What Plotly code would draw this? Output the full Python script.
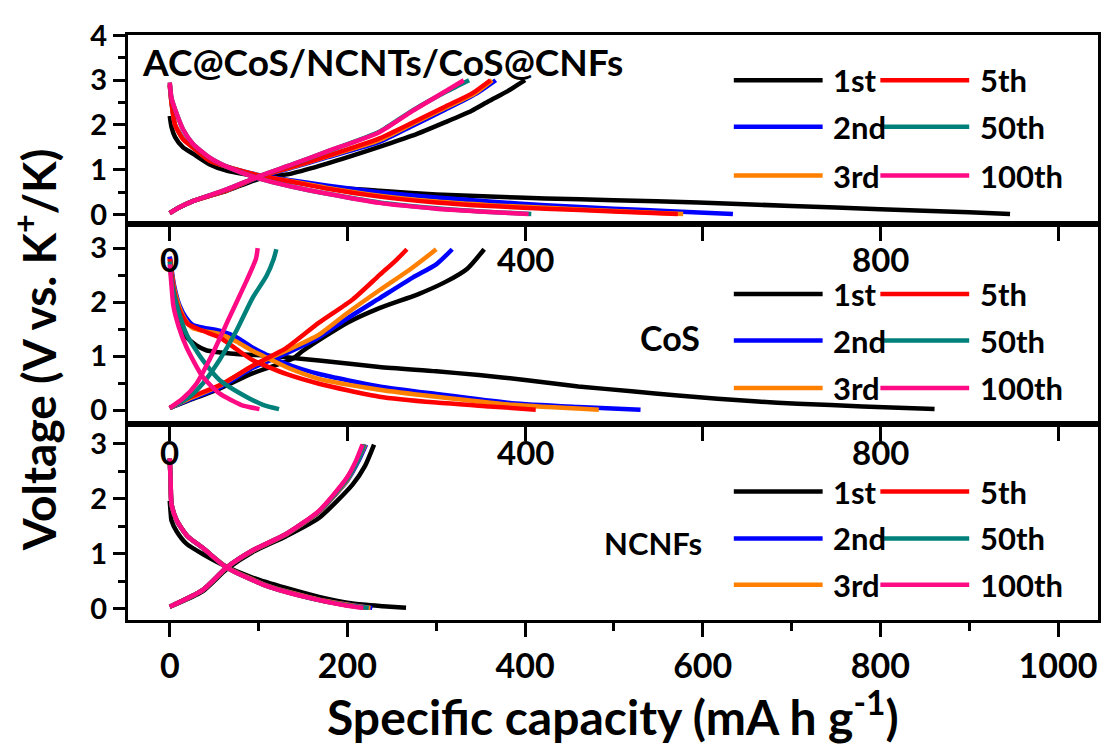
import plotly.graph_objects as go
from plotly.subplots import make_subplots

CYCLES = ["1st", "2nd", "3rd", "5th", "50th", "100th"]
COLORS = ["#000000", "#0000ff", "#ff8000", "#ff0000", "#00807a", "#ff0a85"]
PANEL_LABELS = ["AC@CoS/NCNTs/CoS@CNFs", "CoS", "NCNFs"]
X_TICKS = [0, 200, 400, 600, 800, 1000]
INNER_TICK_LABELS = [0, 400, 800]

# ---------------- Panel 1: AC@CoS/NCNTs/CoS@CNFs ----------------
AC_DIS_1ST = [(0, 2.2), (2, 1.95), (6, 1.73), (15, 1.5), (26, 1.36), (45, 1.12), (64, 0.98), (101, 0.84),
              (138, 0.73), (176, 0.62), (236, 0.53), (300, 0.45), (360, 0.4), (423, 0.36), (500, 0.32),
              (595, 0.27), (700, 0.19), (800, 0.12), (900, 0.05), (946, 0.01)]
AC_DIS_2ND = [(0, 2.9), (2, 2.5), (6, 2.0), (15, 1.7), (26, 1.5), (45, 1.22), (64, 1.07), (101, 0.88),
              (138, 0.76), (176, 0.65), (236, 0.5), (300, 0.38), (360, 0.29), (423, 0.21), (500, 0.13),
              (570, 0.07), (634, 0.01)]
AC_DIS_3RD = [(0, 2.9), (2, 2.5), (6, 2.0), (15, 1.69), (26, 1.5), (45, 1.21), (64, 1.07), (101, 0.87),
              (138, 0.74), (176, 0.6), (236, 0.42), (300, 0.29), (360, 0.21), (423, 0.15), (500, 0.08),
              (578, 0.01)]
AC_DIS_5TH = [(0, 2.9), (2, 2.5), (6, 2.0), (15, 1.68), (26, 1.5), (45, 1.2), (64, 1.07), (101, 0.87),
              (138, 0.73), (176, 0.58), (236, 0.4), (300, 0.27), (360, 0.19), (423, 0.13), (500, 0.07),
              (572, 0.01)]
AC_DIS_50TH = [(0, 2.95), (2, 2.6), (8, 2.24), (15, 1.9), (26, 1.58), (45, 1.27), (64, 1.07), (101, 0.8),
               (138, 0.62), (176, 0.47), (236, 0.27), (300, 0.14), (350, 0.07), (407, 0.01)]
AC_DIS_100TH = [(0, 2.95), (2, 2.6), (8, 2.24), (15, 1.9), (26, 1.58), (45, 1.27), (64, 1.07), (101, 0.8),
                (138, 0.62), (176, 0.47), (236, 0.26), (300, 0.13), (348, 0.07), (404, 0.01)]

AC_CHG_1ST = [(0, 0.03), (10, 0.15), (26, 0.3), (64, 0.53), (101, 0.8), (138, 0.92), (176, 1.13),
              (236, 1.51), (273, 1.76), (311, 2.07), (340, 2.32), (359, 2.53), (380, 2.75), (392, 2.9), (400, 3.0)]
AC_CHG_2ND = [(0, 0.03), (10, 0.15), (26, 0.3), (64, 0.54), (101, 0.84), (138, 1.05), (176, 1.27),
              (236, 1.62), (273, 1.98), (311, 2.35), (345, 2.7), (367, 3.0)]
AC_CHG_3RD = [(0, 0.03), (10, 0.15), (26, 0.3), (64, 0.54), (101, 0.85), (138, 1.06), (176, 1.29),
              (236, 1.66), (273, 2.02), (311, 2.39), (343, 2.7), (363, 3.0)]
AC_CHG_5TH = [(0, 0.03), (10, 0.15), (26, 0.3), (64, 0.54), (101, 0.85), (138, 1.07), (176, 1.3),
              (236, 1.7), (273, 2.05), (311, 2.42), (340, 2.7), (361, 3.0)]
AC_CHG_50TH = [(0, 0.03), (10, 0.15), (26, 0.3), (64, 0.56), (101, 0.86), (138, 1.12), (176, 1.4),
               (236, 1.85), (273, 2.32), (311, 2.74), (337, 3.0)]
AC_CHG_100TH = [(0, 0.03), (10, 0.15), (26, 0.3), (64, 0.56), (101, 0.86), (138, 1.12), (176, 1.4),
                (236, 1.84), (273, 2.31), (311, 2.76), (331, 3.0)]

# ---------------- Panel 2: CoS ----------------
COS_DIS_1ST = [(0, 2.84), (4, 2.3), (8, 1.83), (12, 1.55), (19, 1.35), (30, 1.2), (41, 1.11), (75, 1.04),
               (112, 1.01), (131, 0.98), (168, 0.92), (236, 0.8), (300, 0.72), (348, 0.65), (400, 0.56),
               (460, 0.44), (520, 0.35), (572, 0.27), (662, 0.16), (707, 0.12), (780, 0.07), (861, 0.02)]
COS_DIS_2ND = [(0, 2.84), (5, 2.3), (11, 1.94), (18, 1.72), (26, 1.58), (40, 1.52), (56, 1.47), (75, 1.35),
               (93, 1.16), (112, 1.0), (131, 0.86), (168, 0.67), (236, 0.44), (300, 0.3), (385, 0.13),
               (460, 0.06), (530, 0.01)]
COS_DIS_3RD = [(0, 2.8), (5, 2.25), (11, 1.9), (18, 1.66), (26, 1.52), (40, 1.46), (56, 1.41), (75, 1.27),
               (93, 1.1), (112, 0.95), (131, 0.8), (168, 0.58), (236, 0.38), (300, 0.25), (385, 0.1),
               (483, 0.01)]
COS_DIS_5TH = [(0, 2.8), (5, 2.2), (11, 1.85), (20, 1.6), (37, 1.47), (56, 1.35), (75, 1.13), (93, 0.93),
               (131, 0.67), (168, 0.49), (236, 0.25), (300, 0.14), (360, 0.07), (412, 0.01)]
COS_DIS_50TH = [(0, 2.75), (3, 2.3), (8, 1.94), (19, 1.4), (37, 0.93), (56, 0.56), (86, 0.25), (105, 0.1),
                (123, 0.02)]
COS_DIS_100TH = [(0, 2.7), (2, 2.3), (4, 1.94), (10, 1.55), (19, 1.16), (37, 0.62), (56, 0.31), (80, 0.1),
                 (101, 0.02)]

COS_CHG_1ST = [(0, 0.04), (20, 0.17), (56, 0.4), (93, 0.68), (138, 0.95), (150, 1.1), (176, 1.38),
               (200, 1.62), (236, 1.89), (280, 2.15), (311, 2.38), (335, 2.62), (354, 2.98)]
COS_CHG_2ND = [(0, 0.04), (20, 0.18), (56, 0.42), (93, 0.78), (131, 1.05), (168, 1.35), (200, 1.7),
               (236, 2.07), (273, 2.45), (300, 2.7), (318, 2.98)]
COS_CHG_3RD = [(0, 0.04), (20, 0.2), (56, 0.45), (93, 0.82), (131, 1.1), (168, 1.4), (200, 1.8),
               (236, 2.22), (270, 2.6), (290, 2.85), (300, 2.98)]
COS_CHG_5TH = [(0, 0.04), (20, 0.22), (56, 0.46), (93, 0.82), (131, 1.15), (168, 1.62), (206, 2.05),
               (236, 2.5), (255, 2.78), (267, 2.98)]
COS_CHG_50TH = [(0, 0.04), (20, 0.22), (37, 0.49), (56, 0.93), (75, 1.47), (93, 2.07), (109, 2.49),
                (117, 2.8), (120, 2.98)]
COS_CHG_100TH = [(0, 0.04), (15, 0.22), (30, 0.49), (48, 1.04), (67, 1.71), (86, 2.38), (97, 2.8), (99, 3.0)]

# ---------------- Panel 3: NCNFs ----------------
NC_DIS_1ST = [(0, 1.96), (1, 1.75), (2, 1.6), (8, 1.4), (19, 1.18), (56, 0.83), (93, 0.57), (131, 0.38),
              (168, 0.22), (206, 0.1), (240, 0.05), (266, 0.02)]
NC_DIS_2ND = [(0, 2.73), (1, 2.3), (2, 1.9), (8, 1.6), (20, 1.32), (37, 1.11), (64, 0.76), (112, 0.41),
              (168, 0.17), (205, 0.07), (228, 0.02)]
NC_DIS_3RD = [(0, 2.73), (1, 2.3), (2, 1.9), (8, 1.6), (20, 1.32), (37, 1.11), (64, 0.76), (112, 0.41),
              (168, 0.17), (204, 0.07), (226, 0.02)]
NC_DIS_5TH = [(0, 2.73), (1, 2.3), (2, 1.9), (8, 1.6), (20, 1.32), (37, 1.11), (64, 0.75), (112, 0.4),
              (168, 0.16), (202, 0.06), (222, 0.02)]
NC_DIS_50TH = [(0, 2.73), (1, 2.3), (2, 1.9), (8, 1.6), (20, 1.32), (37, 1.11), (64, 0.75), (112, 0.4),
               (168, 0.16), (203, 0.06), (224, 0.02)]
NC_DIS_100TH = [(0, 2.73), (1, 2.3), (2, 1.9), (8, 1.6), (20, 1.32), (37, 1.11), (64, 0.75), (112, 0.4),
                (168, 0.16), (200, 0.06), (218, 0.02)]

NC_CHG_1ST = [(0, 0.04), (37, 0.32), (64, 0.72), (93, 1.03), (131, 1.32), (168, 1.65), (206, 2.26),
              (220, 2.6), (230, 2.98)]
NC_CHG_2ND = [(0, 0.04), (37, 0.34), (64, 0.75), (93, 1.05), (131, 1.35), (168, 1.76), (200, 2.33),
              (213, 2.7), (221, 2.98)]
NC_CHG_3RD = [(0, 0.04), (37, 0.34), (64, 0.75), (93, 1.05), (131, 1.35), (168, 1.76), (200, 2.34),
              (212, 2.7), (220, 2.98)]
NC_CHG_5TH = [(0, 0.04), (37, 0.34), (64, 0.75), (93, 1.06), (131, 1.36), (168, 1.77), (199, 2.36),
              (211, 2.7), (218, 2.98)]
NC_CHG_50TH = [(0, 0.04), (37, 0.34), (64, 0.75), (93, 1.06), (131, 1.36), (168, 1.77), (200, 2.36),
               (212, 2.7), (219, 2.98)]
NC_CHG_100TH = [(0, 0.04), (37, 0.34), (64, 0.75), (93, 1.06), (131, 1.36), (168, 1.78), (199, 2.37),
                (210, 2.7), (217, 2.98)]

PANELS = [
    ([AC_DIS_1ST, AC_DIS_2ND, AC_DIS_3RD, AC_DIS_5TH, AC_DIS_50TH, AC_DIS_100TH],
     [AC_CHG_1ST, AC_CHG_2ND, AC_CHG_3RD, AC_CHG_5TH, AC_CHG_50TH, AC_CHG_100TH]),
    ([COS_DIS_1ST, COS_DIS_2ND, COS_DIS_3RD, COS_DIS_5TH, COS_DIS_50TH, COS_DIS_100TH],
     [COS_CHG_1ST, COS_CHG_2ND, COS_CHG_3RD, COS_CHG_5TH, COS_CHG_50TH, COS_CHG_100TH]),
    ([NC_DIS_1ST, NC_DIS_2ND, NC_DIS_3RD, NC_DIS_5TH, NC_DIS_50TH, NC_DIS_100TH],
     [NC_CHG_1ST, NC_CHG_2ND, NC_CHG_3RD, NC_CHG_5TH, NC_CHG_50TH, NC_CHG_100TH]),
]

FONT = "Lato"
Y_RANGES = [[-0.22, 4.01], [-0.25, 3.44], [-0.2, 3.36]]
Y_TICKS = [[0, 1, 2, 3, 4], [0, 1, 2, 3], [0, 1, 2, 3]]
LEG_ROWS = [[3.0, 1.96, 0.87], [2.15, 1.29, 0.41], [2.13, 1.28, 0.44]]
INNER_LABEL_Y = [None, 2.8, 2.85]
PANEL_LABEL_POS = [(-34, 3.42, "left", 37), (563, 1.35, "center", 34), (544, 1.2, "center", 31)]

fig = make_subplots(rows=3, cols=1, shared_xaxes=True, vertical_spacing=0,
                    row_heights=[191, 201, 198])

for p, (dis, chg) in enumerate(PANELS):
    row = p + 1
    for i, name in enumerate(CYCLES):
        for curve in (dis[i], chg[i]):
            fig.add_trace(go.Scatter(
                x=[c[0] for c in curve], y=[c[1] for c in curve], mode="lines",
                line=dict(color=COLORS[i], width=4.5, shape="spline", smoothing=0.6),
                name=name, showlegend=False, hoverinfo="skip"), row=row, col=1)

axis_font = dict(family=FONT, size=29, color="black", weight="bold")
for p in range(3):
    row = p + 1
    is_bottom = (row == 3)
    fig.update_xaxes(row=row, col=1, range=[-47, 1045], showline=True, mirror=True,
                     linewidth=3, linecolor="black", showgrid=False, zeroline=False,
                     tickmode="array", tickvals=X_TICKS, ticks="outside", ticklen=14,
                     tickwidth=2.5, tickcolor="black", showticklabels=is_bottom,
                     tickfont=dict(family=FONT, size=34, color="black", weight="bold"))
    fig.update_yaxes(row=row, col=1, range=Y_RANGES[p], showline=True, mirror=True,
                     linewidth=3, linecolor="black", showgrid=False, zeroline=False,
                     tickmode="array", tickvals=Y_TICKS[p], ticks="outside", ticklen=12,
                     tickwidth=2.5, tickcolor="black", tickfont=axis_font,
                     minor=dict(dtick=0.5, ticks="outside", ticklen=7, tickwidth=2.5, tickcolor="black"))
fig.update_xaxes(row=3, col=1, minor=dict(dtick=100, ticks="outside", ticklen=8, tickwidth=2.5,
                                          tickcolor="black"))

annotations = []
shapes = []
leg_font = dict(family=FONT, size=31, color="black", weight="bold")
col_line_x = [(635, 735), (800, 900)]
col_text_x = [744, 910]
for p in range(3):
    xr = "x" if p == 0 else f"x{p + 1}"
    yr = "y" if p == 0 else f"y{p + 1}"
    for i, name in enumerate(CYCLES):
        col = 0 if i < 3 else 1
        r = i % 3
        yv = LEG_ROWS[p][r]
        shapes.append(dict(type="line", xref=xr, yref=yr, x0=col_line_x[col][0], x1=col_line_x[col][1],
                           y0=yv, y1=yv, line=dict(color=COLORS[i], width=4.5)))
        annotations.append(dict(xref=xr, yref=yr, x=col_text_x[col], y=yv, text=name, showarrow=False,
                                xanchor="left", yanchor="middle", font=leg_font))
    lx, ly, anc, fs = PANEL_LABEL_POS[p]
    annotations.append(dict(xref=xr, yref=yr, x=lx, y=ly, text=PANEL_LABELS[p], showarrow=False,
                            xanchor=anc, yanchor="middle",
                            font=dict(family=FONT, size=fs, color="black", weight="bold")))
    if INNER_LABEL_Y[p] is not None:
        for v in INNER_TICK_LABELS:
            annotations.append(dict(xref=xr, yref=yr, x=v, y=INNER_LABEL_Y[p], text=str(v), showarrow=False,
                                    xanchor="center", yanchor="middle",
                                    font=dict(family=FONT, size=33, color="black", weight="bold")))

annotations.append(dict(xref="paper", yref="paper", x=0.5, y=-0.16, text="Specific capacity (mA h g<sup>-1</sup>)",
                        showarrow=False, xanchor="center", yanchor="middle",
                        font=dict(family=FONT, size=48, color="black", weight="bold")))
annotations.append(dict(xref="paper", yref="paper", x=-0.096, y=0.461, text="Voltage (V vs. K<sup>+</sup>/K)",
                        showarrow=False, xanchor="center", yanchor="middle", textangle=-90,
                        font=dict(family=FONT, size=46, color="black", weight="bold")))

# page body has an 8px margin: shrink the figure by 8px and shift margins so the plot area matches
fig.update_layout(width=1102, height=741, margin=dict(l=120, r=9, t=22, b=129),
                  paper_bgcolor="white", plot_bgcolor="white", showlegend=False,
                  annotations=annotations, shapes=shapes)

fig.write_html("out.html")
